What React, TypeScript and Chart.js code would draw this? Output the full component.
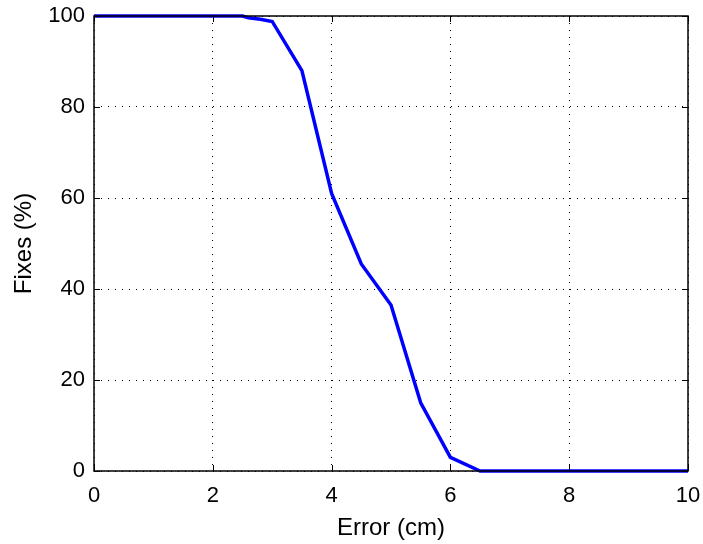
import React, { useEffect, useRef } from "react";
import { Chart, registerables } from "chart.js";

Chart.register(...registerables);

// Cumulative share of fixes whose error exceeds a given distance
const errorCm = [0, 1, 2, 2.5, 2.6, 2.8, 3.0, 3.5, 4.0, 4.5, 5.0, 5.5, 6.0, 6.5, 7, 8, 9, 10];
const fixesPct = [100, 100, 100, 100, 99.6, 99.3, 98.8, 88, 61, 45.5, 36.5, 15, 3, 0, 0, 0, 0, 0];

const xTicks = [0, 2, 4, 6, 8, 10];
const yTicks = [0, 20, 40, 60, 80, 100];

const FONT = "'Liberation Sans', Arial, Helvetica, sans-serif";

// Short tick marks pointing into the plot on all four sides
const innerTicks = {
  id: "innerTicks",
  afterDatasetsDraw(chart: any) {
    const { ctx, chartArea: a, scales } = chart;
    const len = 6;
    ctx.save();
    ctx.strokeStyle = "#000";
    ctx.lineWidth = 1;
    ctx.beginPath();
    xTicks.forEach((v) => {
      const px = Math.round(scales.x.getPixelForValue(v)) + 0.5;
      ctx.moveTo(px, a.bottom);
      ctx.lineTo(px, a.bottom - len);
      ctx.moveTo(px, a.top);
      ctx.lineTo(px, a.top + len);
    });
    yTicks.forEach((v) => {
      const py = Math.round(scales.y.getPixelForValue(v)) + 0.5;
      ctx.moveTo(a.left, py);
      ctx.lineTo(a.left + len, py);
      ctx.moveTo(a.right, py);
      ctx.lineTo(a.right - len, py);
    });
    ctx.stroke();
    ctx.lineWidth = 1.5;
    ctx.strokeRect(a.left, a.top, a.right - a.left, a.bottom - a.top);
    ctx.restore();
  },
};

const noScalePadding = (s: any) => {
  s.paddingLeft = 0;
  s.paddingRight = 0;
  s.paddingTop = 0;
  s.paddingBottom = 0;
};

export default function App() {
  const canvasRef = useRef<HTMLCanvasElement | null>(null);

  useEffect(() => {
    document.body.style.margin = "0";
    const canvas = canvasRef.current;
    if (!canvas) return;
    const chart = new Chart(canvas, {
      type: "line",
      data: {
        datasets: [
          {
            data: errorCm.map((x, i) => ({ x, y: fixesPct[i] })),
            borderColor: "#0000ff",
            borderWidth: 3.5,
            pointRadius: 0,
            tension: 0,
            fill: false,
            clip: false as any,
          },
        ],
      },
      options: {
        animation: false,
        responsive: false,
        devicePixelRatio: 1,
        layout: { padding: { left: 0, right: 15, top: 16, bottom: 0 } },
        plugins: { legend: { display: false }, tooltip: { enabled: false } },
        scales: {
          x: {
            type: "linear",
            min: 0,
            max: 10,
            afterBuildTicks: (s: any) => {
              s.ticks = xTicks.map((value) => ({ value }));
            },
            afterFit: (s: any) => {
              s.height = 73;
              noScalePadding(s);
            },
            grid: {
              color: "#000",
              lineWidth: 1,
              drawTicks: false,
              tickLength: 0,
            },
            border: { display: false, dash: [1, 6] },
            ticks: {
              color: "#000",
              padding: 12,
              maxRotation: 0,
              font: { family: FONT, size: 22 },
            },
            title: {
              display: true,
              text: "Error (cm)",
              color: "#000",
              font: { family: FONT, size: 24 },
              padding: { top: 0, bottom: 1 },
            },
          },
          y: {
            min: 0,
            max: 100,
            afterBuildTicks: (s: any) => {
              s.ticks = yTicks.map((value) => ({ value }));
            },
            afterFit: (s: any) => {
              s.width = 94;
              noScalePadding(s);
            },
            grid: {
              color: "#000",
              lineWidth: 1,
              drawTicks: false,
              tickLength: 0,
            },
            border: { display: false, dash: [1, 6] },
            ticks: {
              color: "#000",
              padding: 9,
              font: { family: FONT, size: 22 },
            },
            title: {
              display: true,
              text: "Fixes (%)",
              color: "#000",
              font: { family: FONT, size: 24 },
              padding: { top: 10, bottom: 0 },
            },
          },
        },
      },
      plugins: [innerTicks],
    });
    return () => chart.destroy();
  }, []);

  return (
    <div style={{ width: 703, height: 544, background: "#fff" }}>
      <canvas ref={canvasRef} width={703} height={544} style={{ display: "block" }} />
    </div>
  );
}
